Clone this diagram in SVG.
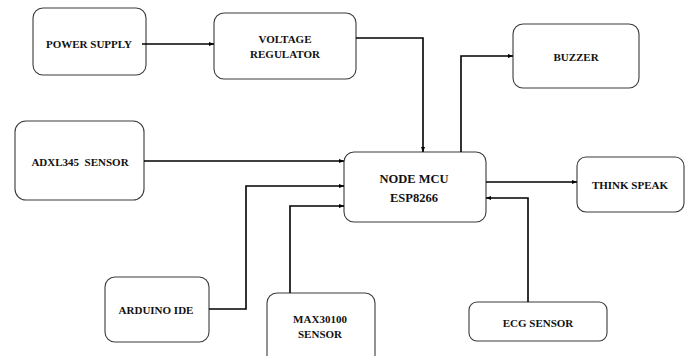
<svg xmlns="http://www.w3.org/2000/svg" width="687" height="356" viewBox="0 0 687 356">
<defs>
<style>
.box{fill:#fff;stroke:#3a3a3a;stroke-width:1.1}
text{font-family:'Liberation Serif','DejaVu Serif','Times New Roman',serif;font-weight:bold;font-size:11px;fill:#111;text-anchor:middle}
.c{fill:none;stroke:#000;stroke-width:1.6}
</style>
<marker id="ah" viewBox="0 0 10 10" refX="10" refY="5" markerWidth="5" markerHeight="5" orient="auto" markerUnits="userSpaceOnUse">
<path d="M0,1 L10,5 L0,9 Z" fill="#000"/>
</marker>
</defs>
<rect width="687" height="356" fill="#fff"/>
<g id="power-supply"><rect class="box" x="33" y="8" width="113" height="67" rx="10"/><text x="89" y="48">POWER SUPPLY</text></g>
<g id="voltage-regulator"><rect class="box" x="214" y="13" width="142" height="66" rx="10"/><text x="285" y="43">VOLTAGE</text><text x="285" y="58">REGULATOR</text></g>
<g id="buzzer"><rect class="box" x="513" y="24" width="126" height="64" rx="10"/><text x="576" y="61">BUZZER</text></g>
<g id="adxl345"><rect class="box" x="15" y="121" width="129" height="79" rx="11"/><text x="80" y="166" xml:space="preserve">ADXL345  SENSOR</text></g>
<g id="node-mcu"><rect class="box" x="344" y="152" width="142" height="70" rx="10"/><text x="414" y="183" style="font-size:12.5px">NODE MCU</text><text x="414" y="202" style="font-size:12.5px">ESP8266</text></g>
<g id="think-speak"><rect class="box" x="577" y="157" width="107" height="55" rx="9"/><text x="630" y="189">THINK SPEAK</text></g>
<g id="arduino-ide"><rect class="box" x="105" y="277" width="104" height="65" rx="10"/><text x="156" y="314">ARDUINO IDE</text></g>
<g id="max30100"><rect class="box" x="267" y="293" width="108" height="72" rx="10"/><text x="320" y="323">MAX30100</text><text x="320" y="338">SENSOR</text></g>
<g id="ecg-sensor"><rect class="box" x="469" y="302" width="138" height="39" rx="8"/><text x="538" y="327">ECG SENSOR</text></g>
<g id="connectors">
<path class="c" d="M142,44 H214" marker-end="url(#ah)"/>
<path class="c" d="M356,38 H423 V152" marker-end="url(#ah)"/>
<path class="c" d="M461,152 V56 H513" marker-end="url(#ah)"/>
<path class="c" d="M144,161 H344" marker-end="url(#ah)"/>
<path class="c" d="M209,309 H246 V186 H344" marker-end="url(#ah)"/>
<path class="c" d="M290,293 V206 H344" marker-end="url(#ah)"/>
<path class="c" d="M486,182 H577" marker-end="url(#ah)"/>
<path class="c" d="M528,302 V198 H486" marker-end="url(#ah)"/>
</g>
</svg>
